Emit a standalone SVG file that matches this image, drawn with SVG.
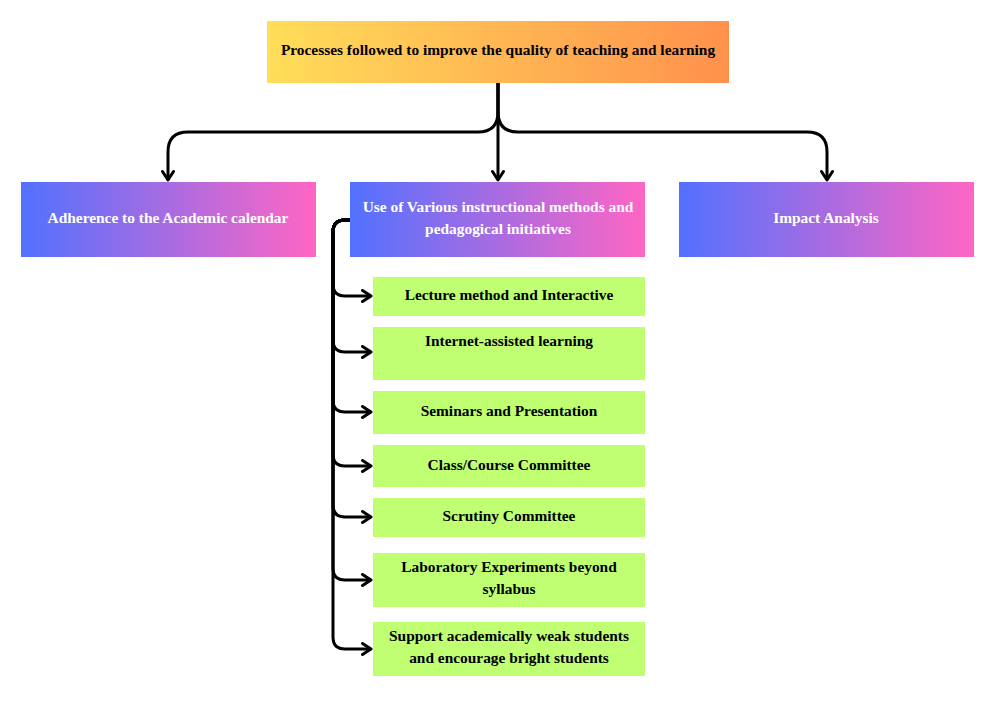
<svg xmlns="http://www.w3.org/2000/svg" width="994" height="703" viewBox="0 0 994 703">
<defs>
<linearGradient id="gY" x1="0" y1="0" x2="1" y2="0"><stop offset="0" stop-color="#FFDE59"/><stop offset="1" stop-color="#FF914D"/></linearGradient>
<linearGradient id="gB" x1="0" y1="0" x2="1" y2="0"><stop offset="0" stop-color="#5271FF"/><stop offset="1" stop-color="#FF66C4"/></linearGradient>
<marker id="arr" viewBox="0 0 14 14" refX="11.5" refY="7" markerWidth="14" markerHeight="14" markerUnits="userSpaceOnUse" orient="auto">
<path d="M3,1.5 L11.5,7 L3,12.5" fill="none" stroke="#000" stroke-width="3" stroke-linecap="round" stroke-linejoin="round"/>
</marker>
<style>
text{font-family:"Liberation Serif","Times New Roman",serif;font-weight:bold;font-size:15.4px;text-anchor:middle}
.dk{fill:#000}
.wt{fill:#fff}
.green{fill:#C1FF72}
.conn{fill:none;stroke:#000;stroke-width:3;marker-end:url(#arr)}
</style>
</defs>
<rect width="994" height="703" fill="#fff"/>
<g id="connectors">
<path class="conn" d="M498,83 L498,180"/>
<path class="conn" d="M498,83 L498,112 Q498,132 478,132 L188,132 Q168,132 168,152 L168,180"/>
<path class="conn" d="M498,83 L498,112 Q498,132 518,132 L807,132 Q827,132 827,152 L827,180"/>
<path class="conn" d="M350,220 L345,220 Q333,220 333,232 L333,284 Q333,296 345,296 L371,296"/>
<path class="conn" d="M350,220 L345,220 Q333,220 333,232 L333,340 Q333,352 345,352 L371,352"/>
<path class="conn" d="M350,220 L345,220 Q333,220 333,232 L333,400 Q333,412 345,412 L371,412"/>
<path class="conn" d="M350,220 L345,220 Q333,220 333,232 L333,454 Q333,466 345,466 L371,466"/>
<path class="conn" d="M350,220 L345,220 Q333,220 333,232 L333,505 Q333,517 345,517 L371,517"/>
<path class="conn" d="M350,220 L345,220 Q333,220 333,232 L333,568 Q333,580 345,580 L371,580"/>
<path class="conn" d="M350,220 L345,220 Q333,220 333,232 L333,637 Q333,649 345,649 L371,649"/>
</g>
<g id="root"><rect x="267" y="21" width="462" height="62" fill="url(#gY)"/><text class="dk" x="498" y="55">Processes followed to improve the quality of teaching and learning</text></g>
<g id="adherence"><rect x="21" y="182" width="295" height="75" fill="url(#gB)"/><text class="wt" x="168" y="223">Adherence to the Academic calendar</text></g>
<g id="methods"><rect x="350" y="182" width="295" height="75" fill="url(#gB)"/><text class="wt" x="498" y="212">Use of Various instructional methods and</text><text class="wt" x="498" y="234">pedagogical initiatives</text></g>
<g id="impact"><rect x="679" y="182" width="295" height="75" fill="url(#gB)"/><text class="wt" x="826" y="223">Impact Analysis</text></g>
<g id="lecture"><rect class="green" x="373" y="277" width="272" height="39"/><text class="dk" x="509" y="300">Lecture method and Interactive</text></g>
<g id="internet"><rect class="green" x="373" y="327" width="272" height="53"/><text class="dk" x="509" y="346">Internet-assisted learning</text></g>
<g id="seminars"><rect class="green" x="373" y="391" width="272" height="43"/><text class="dk" x="509" y="416">Seminars and Presentation</text></g>
<g id="classcommittee"><rect class="green" x="373" y="445" width="272" height="42"/><text class="dk" x="509" y="470">Class/Course Committee</text></g>
<g id="scrutiny"><rect class="green" x="373" y="498" width="272" height="39"/><text class="dk" x="509" y="521">Scrutiny Committee</text></g>
<g id="laboratory"><rect class="green" x="373" y="553" width="272" height="54"/><text class="dk" x="509" y="572">Laboratory Experiments beyond</text><text class="dk" x="509" y="594">syllabus</text></g>
<g id="support"><rect class="green" x="373" y="622" width="272" height="54"/><text class="dk" x="509" y="641">Support academically weak students</text><text class="dk" x="509" y="663">and encourage bright students</text></g>
</svg>
